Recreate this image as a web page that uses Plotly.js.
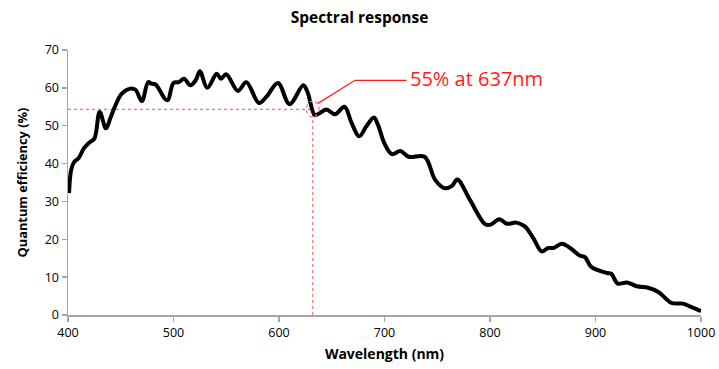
<!DOCTYPE html>
<html>
<head>
<meta charset="utf-8">
<script src="https://cdn.plot.ly/plotly-3.0.1.min.js"></script>
<style>html,body{margin:0;padding:0;background:#fff;} #chart{width:719px;height:369px;}</style>
</head>
<body>
<div id="chart"></div>
<script>
const wavelength = [401,403,406,410,415,420,425,430,436,440,445,451,459,464,470,476,479,483,494,500,505,510,516,521,525,532,541,545,550,561,569,581,588,599,610,623,627,634,639,645,653,662,669,676,683,690,694,700,707,715,723,738,748,757,764,769,781,795,800,809,816,825,833,841,849,855,860,868,876,885,890,896,911,915,921,930,939,950,960,972,983,990,1000];
const qe = [32.2,38.3,40.5,41.4,44,45.5,46.6,53.6,49.3,51.9,55.4,58.5,59.8,59.5,56.5,61.5,61.1,60.9,56.7,61.3,61.5,62.4,60.7,62,64.4,60,63.7,62.4,63.6,59.2,61.5,56,57.6,61.3,55.7,60.7,58.9,52.8,53.4,54.3,53,55,50.6,47.2,49.9,52.2,50.1,45.3,42.5,43.3,41.8,41.8,35.7,33.5,34.1,35.8,30.4,24.1,23.8,25.3,24.1,24.4,23.4,20.3,16.8,17.7,17.7,18.8,17.7,15.7,15.3,12.7,11.1,10.9,8.3,8.6,7.6,7.2,6,3.2,3,2.2,1];
const xTicks = [400,500,600,700,800,900,1000];
const yTicks = [0,10,20,30,40,50,60,70];
const markWl = 632;
const markQe = 54.3;
const labelText = "55% at 637nm";

const red = "#ff1a1a";
const dotRed = "#ff7070";
const font = "'Open Sans', 'Liberation Sans', sans-serif";

const trace = {
  x: wavelength, y: qe, type: "scatter", mode: "lines",
  line: {color: "#000", width: 4, shape: "spline", smoothing: 1},
  hoverinfo: "skip"
};

const layout = {
  width: 719, height: 369,
  margin: {l: 68, r: 18, t: 50, b: 54},
  paper_bgcolor: "#fff", plot_bgcolor: "#fff",
  showlegend: false,
  font: {family: font, color: "#000", size: 12},
  title: {text: "<b>Spectral response</b>", x: 0.5, xanchor: "center", y: 0.952, yanchor: "middle",
          font: {family: font, size: 15.5, color: "#000"}},
  xaxis: {
    range: [400, 1000], tickvals: xTicks, ticktext: xTicks.map(String),
    showgrid: false, zeroline: false, showline: true, linecolor: "#a6a6a6", linewidth: 1.5,
    ticks: "outside", ticklen: 5, tickcolor: "#a6a6a6", tickwidth: 1.5,
    tickfont: {family: font, size: 12.5, color: "#000"},
    title: {text: "<b>Wavelength (nm)</b>", font: {family: font, size: 14, color: "#000"}, standoff: 9}
  },
  yaxis: {
    range: [0, 70], tickvals: yTicks, ticktext: yTicks.map(String),
    showgrid: false, zeroline: false, showline: true, linecolor: "#a6a6a6", linewidth: 1.5,
    ticks: "outside", ticklen: 5, tickcolor: "#a6a6a6", tickwidth: 1.5,
    tickfont: {family: font, size: 12.5, color: "#000"},
    title: {text: "<b>Quantum efficiency (%)</b>", font: {family: font, size: 12.8, color: "#000"}, standoff: 14}
  },
  shapes: [
    {type: "line", xref: "x", yref: "y", x0: 400, x1: markWl - 2, y0: markQe, y1: markQe,
     line: {color: dotRed, width: 1.2, dash: "dot"}, layer: "below"},
    {type: "line", xref: "x", yref: "y", x0: markWl, x1: markWl, y0: 0, y1: markQe - 1,
     line: {color: dotRed, width: 1.2, dash: "dot"}, layer: "below"},
    {type: "circle", xref: "x", yref: "y", x0: markWl - 6, x1: markWl + 6, y0: markQe - 2, y1: markQe + 2.2,
     line: {color: dotRed, width: 1.2, dash: "dot"}},
    {type: "path", xref: "x", yref: "y",
     path: "M 637 55.9 L 672 62 L 721 62",
     line: {color: red, width: 1.2}}
  ],
  annotations: [
    {xref: "x", yref: "y", x: 722, y: 62.4, xanchor: "left", yanchor: "middle", showarrow: false,
     text: labelText, font: {family: font, size: 20, color: red}}
  ]
};

Plotly.newPlot("chart", [trace], layout, {staticPlot: true, displayModeBar: false});
</script>
</body>
</html>
